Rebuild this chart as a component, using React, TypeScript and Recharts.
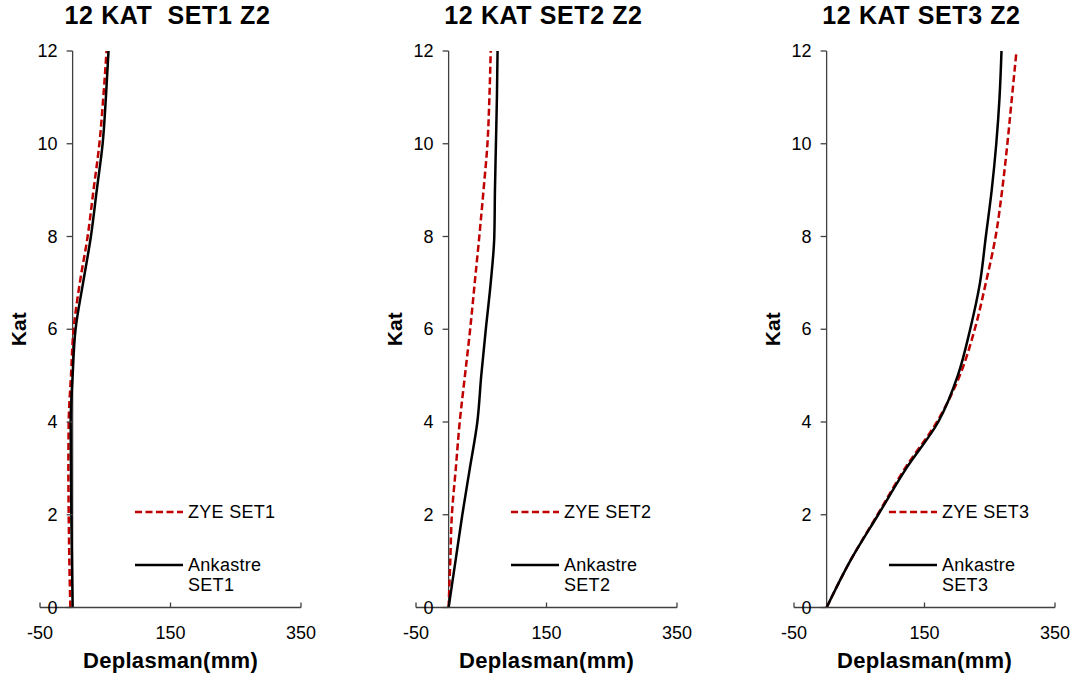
import { LineChart, Line, XAxis, YAxis, ReferenceLine, Legend } from 'recharts'

// floors (Kat) shared by every profile
const KAT = [0, 1, 2, 3, 4, 5, 6, 7, 8, 9, 10, 11, 12]

// displacement (mm) per floor
const ZYE_SET1 = [-3.5, -5, -6, -6.5, -6, -2.5, 1.5, 11, 23, 32, 41, 47, 52]
const ANK_SET1 = [0, -1, -2, -2.5, -3, 0, 4.5, 16, 28, 37, 46, 51, 55]

const ZYE_SET2 = [0, 2.5, 5, 11, 17, 25, 33, 40, 47, 53.5, 59.5, 62.5, 64.5]
const ANK_SET2 = [0, 10.5, 21, 32.5, 44, 50, 57, 64.5, 70, 71, 72.5, 74, 75]

const ZYE_SET3 = [0, 36, 78, 120, 169, 204, 227, 244, 259, 269, 277, 284, 291]
const ANK_SET3 = [0, 36, 79, 122, 171, 201, 220, 235, 244, 253, 260, 265, 268]

const TITLES = ['12 KAT  SET1 Z2', '12 KAT SET2 Z2', '12 KAT SET3 Z2']
const ZYE_NAMES = ['ZYE SET1', 'ZYE SET2', 'ZYE SET3']
const ANK_NAMES = ['Ankastre SET1', 'Ankastre SET2', 'Ankastre SET3']

const X_TICKS = [-50, 150, 350]
const Y_TICKS = [0, 2, 4, 6, 8, 10, 12]

const FONT = '"Liberation Sans", Arial, Helvetica, sans-serif'
const AXIS = '#404040'

// one panel
const W = 377
const H = 679
const YAXIS_W = 1
const MARGIN = { top: 51, right: 76, bottom: 0, left: 40 - YAXIS_W }
const XAXIS_H = 71.5
const PLOT_LEFT = MARGIN.left + YAXIS_W
const PLOT_W = W - PLOT_LEFT - MARGIN.right
const PLOT_BOTTOM = H - XAXIS_H
const AXIS_X = PLOT_LEFT + (PLOT_W * 50) / 400 // where x = 0 sits, the value axis crosses there
const PANEL_LEFT = [0, 376, 754]

const STYLE: Record<string, { stroke: string; dash?: string }> = {
  zye: { stroke: '#C00000', dash: '7 3.5' },
  ank: { stroke: '#000000' },
}
const LEGEND_ORDER = ['zye', 'ank']

const YTick = ({ y, payload }: any) => (
  <g>
    <line x1={AXIS_X - 6} x2={AXIS_X} y1={y} y2={y} stroke={AXIS} strokeWidth={1.3} />
    <text x={AXIS_X - 15} y={y} textAnchor="end" dominantBaseline="central" fontSize={18} fill="#000" fontFamily={FONT}>
      {payload.value}
    </text>
  </g>
)

const XTick = ({ x, payload }: any) => (
  <g>
    <line x1={x} x2={x} y1={PLOT_BOTTOM} y2={PLOT_BOTTOM - 5} stroke={AXIS} strokeWidth={1.3} />
    <text x={x} y={PLOT_BOTTOM + 31} textAnchor="middle" fontSize={18} fill="#000" fontFamily={FONT}>
      {payload.value}
    </text>
  </g>
)

const renderLegend = ({ payload }: any) => {
  const items = [...(payload || [])].sort(
    (a: any, b: any) => LEGEND_ORDER.indexOf(a.dataKey) - LEGEND_ORDER.indexOf(b.dataKey)
  )
  return (
    <div style={{ fontFamily: FONT, fontSize: 18, letterSpacing: 0.3, lineHeight: '20px', color: '#000' }}>
      {items.map((e: any, i: number) => {
        const s = STYLE[e.dataKey] || { stroke: e.color }
        return (
          <div key={i} style={{ display: 'flex', alignItems: 'flex-start', marginBottom: i === 0 ? 33 : 0 }}>
            <svg width={48} height={20} style={{ flex: 'none' }}>
              <line x1={0} x2={48} y1={10} y2={10} stroke={s.stroke} strokeWidth={2.5} strokeDasharray={s.dash} />
            </svg>
            <span style={{ marginLeft: 5, width: 105 }}>{e.value}</span>
          </div>
        )
      })}
    </div>
  )
}

function Panel({ idx, zye, ank }: { idx: number; zye: number[]; ank: number[] }) {
  const rows = KAT.map((k, i) => ({ kat: k, zye: zye[i], ank: ank[i] }))
  return (
    <div style={{ position: 'absolute', left: PANEL_LEFT[idx], top: 0, width: W, height: H }}>
      <div
        style={{
          position: 'absolute',
          top: 3,
          left: 0,
          width: 335,
          textAlign: 'center',
          fontFamily: FONT,
          fontSize: 25,
          letterSpacing: 0.6,
          fontWeight: 'bold',
          lineHeight: '25px',
          whiteSpace: 'pre',
          color: '#000',
        }}
      >
        {TITLES[idx]}
      </div>
      <LineChart width={W} height={H} data={rows} layout="vertical" margin={MARGIN}>
        <XAxis
          type="number"
          dataKey="zye"
          domain={[-50, 350]}
          ticks={X_TICKS}
          interval={0}
          height={XAXIS_H}
          axisLine={{ stroke: AXIS, strokeWidth: 1.3 }}
          tickLine={false}
          tick={<XTick />}
          label={{
            content: ({ viewBox }: any) => (
              <text
                x={viewBox.x + viewBox.width / 2}
                y={viewBox.y + 60.5}
                textAnchor="middle"
                fontSize={22}
                letterSpacing={0.3}
                fontWeight="bold"
                fill="#000"
                fontFamily={FONT}
              >
                Deplasman(mm)
              </text>
            ),
          }}
        />
        <YAxis
          type="number"
          dataKey="kat"
          domain={[0, 12]}
          ticks={Y_TICKS}
          interval={0}
          reversed
          width={YAXIS_W}
          axisLine={false}
          tickLine={false}
          tick={<YTick />}
          label={{
            content: () => {
              const cx = PLOT_LEFT - 22
              const cy = MARGIN.top + (PLOT_BOTTOM - MARGIN.top) / 2
              return (
                <text
                  x={cx}
                  y={cy}
                  transform={`rotate(-90 ${cx} ${cy})`}
                  textAnchor="middle"
                  dominantBaseline="central"
                  fontSize={21}
                  fontWeight="bold"
                  fill="#000"
                  fontFamily={FONT}
                >
                  Kat
                </text>
              )
            },
          }}
        />
        <ReferenceLine x={0} stroke={AXIS} strokeWidth={1.3} />
        <Legend
          layout="vertical"
          align="center"
          verticalAlign="middle"
          content={renderLegend}
          wrapperStyle={{ left: 135, top: 502, width: 170 }}
        />
        <Line
          dataKey="zye"
          name={ZYE_NAMES[idx]}
          type="monotone"
          stroke={STYLE.zye.stroke}
          strokeDasharray={STYLE.zye.dash}
          strokeWidth={2.5}
          dot={false}
          activeDot={false}
          isAnimationActive={false}
        />
        <Line
          dataKey="ank"
          name={ANK_NAMES[idx]}
          type="monotone"
          stroke={STYLE.ank.stroke}
          strokeWidth={2.5}
          dot={false}
          activeDot={false}
          isAnimationActive={false}
        />
      </LineChart>
    </div>
  )
}

export default function App() {
  return (
    <div style={{ position: 'absolute', left: 0, top: 0, width: 1083, height: 679, background: '#fff' }}>
      <Panel idx={0} zye={ZYE_SET1} ank={ANK_SET1} />
      <Panel idx={1} zye={ZYE_SET2} ank={ANK_SET2} />
      <Panel idx={2} zye={ZYE_SET3} ank={ANK_SET3} />
    </div>
  )
}
